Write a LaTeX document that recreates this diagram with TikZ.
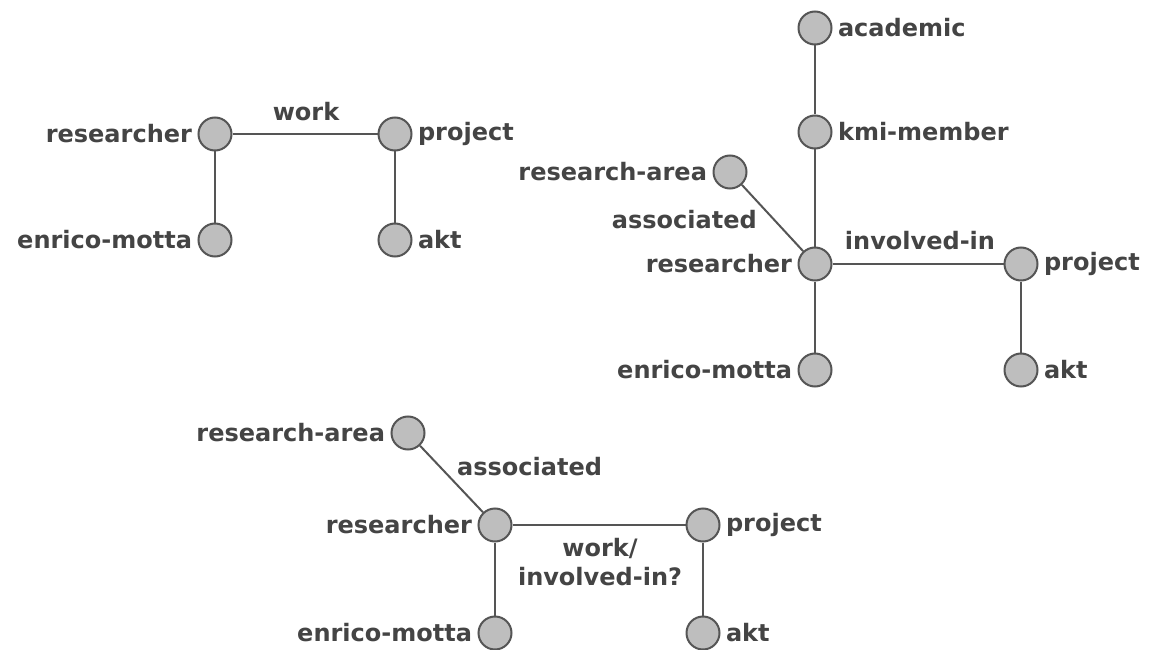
\documentclass[tikz,border=0pt]{standalone}
\usepackage{fontspec}
\setmainfont{DejaVu Sans}
\usepackage{xcolor}
\usepackage{tikz}
\usetikzlibrary{positioning}
\definecolor{nodegray}{HTML}{BEBEBE}
\definecolor{edgegray}{HTML}{555555}
\definecolor{textgray}{HTML}{444444}

\tikzset{
  concept/.style={circle, draw=edgegray, fill=nodegray, line width=2pt,
    minimum size=33pt, inner sep=0pt},
  link/.style={draw=edgegray, line width=2pt},
  every label/.style={text=textgray, font=\fontsize{24}{29}\selectfont\bfseries},
  rel/.style={text=textgray, font=\fontsize{24}{29}\selectfont\bfseries,
    align=center, inner sep=0pt},
  label distance=2pt
}

\begin{document}
\begin{tikzpicture}[x=1pt, y=-1pt]
  \useasboundingbox (0,0) rectangle (1152,650);

  % First graph
  \node[concept, label=left:researcher] (r1) at (215,134) {};
  \node[concept, label=right:project] (p1) at (395,134) {};
  \node[concept, label=left:enrico-motta] (e1) at (215,240) {};
  \node[concept, label=right:akt] (a1) at (395,240) {};
  \draw[link] (r1) -- (p1);
  \draw[link] (r1) -- (e1);
  \draw[link] (p1) -- (a1);
  \node[rel] (w1) at (306,112) {work};

  % Second graph
  \node[concept, label=right:academic] (ac2) at (815,28) {};
  \node[concept, label=right:kmi-member] (km2) at (815,132) {};
  \node[concept, label=left:research-area] (ra2) at (730,172) {};
  \node[concept, label=left:researcher] (r2) at (815,264) {};
  \node[concept, label=right:project] (p2) at (1021,264) {};
  \node[concept, label=left:enrico-motta] (e2) at (815,370) {};
  \node[concept, label=right:akt] (a2) at (1021,370) {};
  \draw[link] (ac2) -- (km2);
  \draw[link] (km2) -- (r2);
  \draw[link] (ra2) -- (r2);
  \draw[link] (r2) -- (p2);
  \draw[link] (r2) -- (e2);
  \draw[link] (p2) -- (a2);
  \node[rel, anchor=east] (as2) at (757,220) {associated};
  \node[rel] (in2) at (920,241) {involved-in};

  % Third graph
  \node[concept, label=left:research-area] (ra3) at (408,433) {};
  \node[concept, label=left:researcher] (r3) at (495,525) {};
  \node[concept, label=right:project] (p3) at (703,525) {};
  \node[concept, label=left:enrico-motta] (e3) at (495,633) {};
  \node[concept, label=right:akt] (a3) at (703,633) {};
  \draw[link] (ra3) -- (r3);
  \draw[link] (r3) -- (p3);
  \draw[link] (r3) -- (e3);
  \draw[link] (p3) -- (a3);
  \node[rel, anchor=west] (as3) at (457,467) {associated};
  \node[rel] (wi3) at (600,562) {work/\\involved-in?};
\end{tikzpicture}
\end{document}
